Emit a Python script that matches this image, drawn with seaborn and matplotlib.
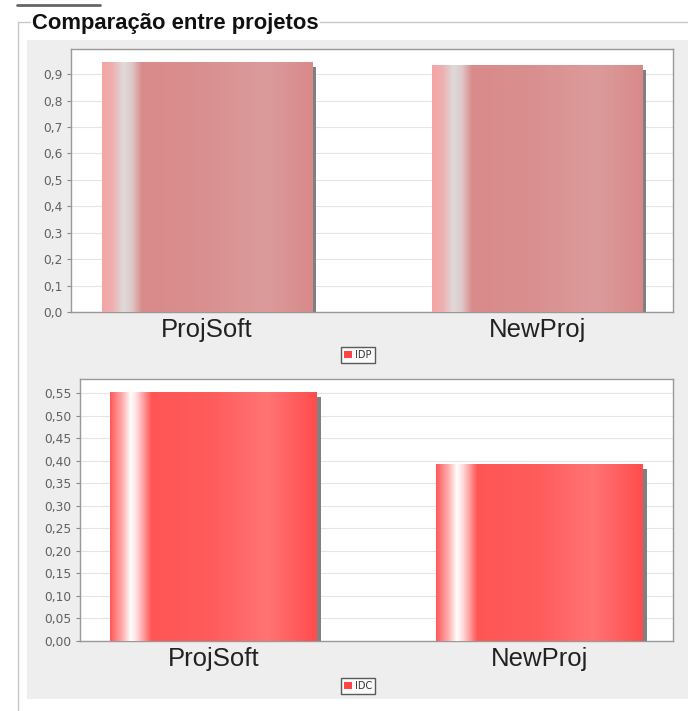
import numpy as np
import pandas as pd
import matplotlib
matplotlib.use("Agg")
import matplotlib.pyplot as plt
import matplotlib.transforms as mtrans
from matplotlib.patches import Rectangle
from matplotlib.colors import LinearSegmentedColormap
from matplotlib.lines import Line2D
import seaborn as sns

# ---- data ----
projects = ["ProjSoft", "NewProj"]
idp_values = [0.946, 0.936]
idc_values = [0.553, 0.392]
idp_ticks = [0.0, 0.1, 0.2, 0.3, 0.4, 0.5, 0.6, 0.7, 0.8, 0.9]
idc_ticks = [0.00, 0.05, 0.10, 0.15, 0.20, 0.25, 0.30, 0.35, 0.40, 0.45, 0.50, 0.55]
title = "Comparação entre projetos"

sns.set_theme(style="white")
plt.rcParams['font.family'] = ['DejaVu Sans']

W, H = 688, 711
fig = plt.figure(figsize=(W / 100, H / 100), dpi=100)
fig.patch.set_facecolor("white")

def fx(px):
    return px / W

def fy(py):
    return 1 - py / H

# gray panel
panel = Rectangle((fx(27), fy(699)), fx(688) - fx(27), fy(40) - fy(699),
                  transform=fig.transFigure, facecolor="#eeeeee",
                  edgecolor="none", zorder=-10)
fig.patches.append(panel)
# group box border
gb = "#c8c8c8"
fig.add_artist(Line2D([fx(18), fx(18)], [fy(22), fy(711)], transform=fig.transFigure, color=gb, lw=1, zorder=-10))
fig.add_artist(Line2D([fx(18), fx(30)], [fy(22), fy(22)], transform=fig.transFigure, color=gb, lw=1, zorder=-10))
fig.add_artist(Line2D([fx(320), fx(688)], [fy(22), fy(22)], transform=fig.transFigure, color=gb, lw=1, zorder=-10))
fig.add_artist(Line2D([fx(17), fx(100)], [fy(5), fy(5)], transform=fig.transFigure, color="#666666", lw=2, zorder=-10))
fig.text(fx(32), fy(24), title, ha="left", va="center", fontsize=15.8,
         fontweight="bold", family=["Liberation Sans", "DejaVu Sans"], color="#111111")


def make_cmap(stops):
    return LinearSegmentedColormap.from_list("g", stops)

muted = make_cmap([(0.0, "#f4a4a4"), (0.05, "#eeb0b0"), (0.1, "#dedada"),
                   (0.14, "#e0c8c8"), (0.19, "#d98a8a"), (0.5, "#da9090"),
                   (0.78, "#dc9b9b"), (1.0, "#d88a8a")])
bright = make_cmap([(0.0, "#ff5a5a"), (0.06, "#ffb0b0"), (0.1, "#ffffff"),
                    (0.13, "#ffd8d8"), (0.2, "#ff5555"), (0.5, "#ff5c5c"),
                    (0.76, "#ff7474"), (1.0, "#ff4c4c")])


def draw_chart(ax, values, ticks, ylim, label, cmap, fmt):
    df = pd.DataFrame({"proj": projects, "val": values, "serie": label})
    sns.barplot(data=df, x="proj", y="val", hue="serie", ax=ax, width=0.635,
                palette=["#ff5555"], legend=True, zorder=3)
    ax.set_facecolor("white")
    ax.set_xlim(-0.41, 1.41)
    ax.set_ylim(*ylim)
    ax.set_yticks(ticks)
    ax.set_yticklabels([fmt(t).replace(".", ",") for t in ticks], fontsize=8.8,
                       color="#606060")
    ax.set_xlabel("")
    ax.set_ylabel("")
    ax.tick_params(axis="x", length=0, labelsize=18.5, labelcolor="#222222", pad=4)
    ax.tick_params(axis="y", length=3, width=0.8, color="#888888", left=True, pad=3)
    for lab in ax.get_xticklabels():
        lab.set_family(["Liberation Sans", "DejaVu Sans"])
    ax.yaxis.grid(True, color="#e4e4e4", lw=0.8, zorder=0)
    ax.set_axisbelow(True)
    for s in ax.spines.values():
        s.set_color("#999999")
        s.set_linewidth(1.0)
    grad = np.linspace(0, 1, 256).reshape(1, -1)
    for p in list(ax.patches):
        x, y = p.get_x(), p.get_y()
        w, h = p.get_width(), p.get_height()
        shadow_tr = ax.transData + mtrans.ScaledTranslation(4 / 100, -5 / 100, fig.dpi_scale_trans)
        sh = Rectangle((x, y), w, h, transform=shadow_tr, facecolor="#808080",
                       edgecolor="none", zorder=2)
        ax.add_patch(sh)
        sh.set_clip_path(ax.patch)
        p.set_facecolor("none")
        p.set_edgecolor("none")
        im = ax.imshow(grad, cmap=cmap, aspect="auto", extent=[x, x + w, y, y + h],
                       zorder=4, interpolation="bilinear")
        im.set_clip_path(p)
        p.set_zorder(4)
    ax.set_xlim(-0.41, 1.41)
    ax.set_ylim(*ylim)
    leg = ax.legend_
    if leg is not None:
        leg.remove()


ax1 = fig.add_axes([fx(71), fy(312), fx(673) - fx(71), fy(49) - fy(312)])
draw_chart(ax1, idp_values, idp_ticks, (0, 0.995), "IDP", muted, lambda t: f"{t:.1f}")
ax2 = fig.add_axes([fx(80), fy(641), fx(673) - fx(80), fy(379) - fy(641)])
draw_chart(ax2, idc_values, idc_ticks, (0, 0.581), "IDC", bright, lambda t: f"{t:.2f}")


def add_legend(label, cy):
    handle = Rectangle((0, 0), 1, 1, facecolor="#ff4444", edgecolor="none")
    leg = fig.legend([handle], [label], loc="center", bbox_to_anchor=(fx(358), fy(cy)),
                     fontsize=7, frameon=True, fancybox=False, handlelength=0.8,
                     handleheight=0.8, handletextpad=0.3, borderpad=0.35,
                     borderaxespad=0)
    fr = leg.get_frame()
    fr.set_edgecolor("#333333")
    fr.set_linewidth(1.0)
    fr.set_facecolor("white")
    for t in leg.get_texts():
        t.set_color("#333333")

add_legend("IDP", 355)
add_legend("IDC", 686)

fig.savefig("out.png", dpi=100, facecolor=fig.get_facecolor())
